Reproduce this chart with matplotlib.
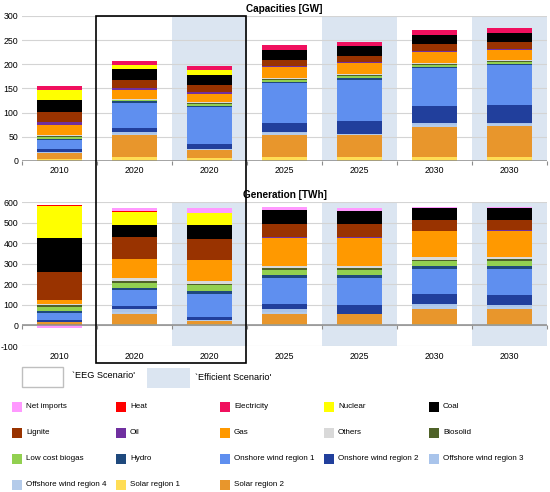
import matplotlib.pyplot as plt
from matplotlib.patches import Rectangle
import numpy as np

plt.rcParams['font.family'] = ['Liberation Sans', 'DejaVu Sans']
plt.rcParams['axes.unicode_minus'] = False

years = ['2010', '2020', '2020', '2025', '2025', '2030', '2030']
efficient = [0, 0, 1, 0, 1, 0, 1]

techs = ['Net imports', 'Heat', 'Electricity', 'Nuclear', 'Coal',
         'Lignite', 'Oil', 'Gas', 'Others', 'Biosolid',
         'Low cost biogas', 'Hydro', 'Onshore wind region 1', 'Onshore wind region 2', 'Offshore wind region 3',
         'Offshore wind region 4', 'Solar region 1', 'Solar region 2']
tech_colors = ['#FF99FF', '#FF0000', '#F0105E', '#FFFF00', '#000000',
               '#993300', '#7030A0', '#FF9900', '#D9D9D9', '#4F6228',
               '#92D050', '#1F497D', '#5F8FEF', '#213F9C', '#A9C4EB',
               '#B4CBEA', '#FFDD55', '#E8962C']
# bottom-up order of the stack
stack_order = ['Solar region 1', 'Solar region 2', 'Offshore wind region 4', 'Offshore wind region 3',
               'Onshore wind region 2', 'Onshore wind region 1', 'Hydro', 'Low cost biogas', 'Biosolid',
               'Others', 'Gas', 'Oil', 'Lignite', 'Coal', 'Nuclear', 'Electricity', 'Heat', 'Net imports']

# capacities [GW]
cap_net_imports = [0, 0, 0, 0, 0, 0, 0]
cap_heat = [0, 0, 0, 0, 0, 0, 0]
cap_electricity = [9, 8.5, 9, 9.5, 9.5, 10.5, 10.5]
cap_nuclear = [21, 8.5, 9.5, 0, 0, 0, 0]
cap_coal = [25.5, 21.5, 21, 21, 19.5, 18, 18]
cap_lignite = [20, 16.5, 14.5, 12.5, 13, 14, 15]
cap_oil = [5.5, 4, 5, 2, 2, 1.5, 1.5]
cap_gas = [21, 19, 16.5, 23.5, 22, 24, 21.5]
cap_others = [3, 1.5, 2.5, 2.5, 3.5, 2.5, 2.5]
cap_biosolid = [1, 1, 1.5, 1.5, 2, 1.5, 1.5]
cap_biogas = [4, 2.5, 3, 3.5, 4, 3.5, 3.5]
cap_hydro = [3, 3, 3, 3, 3, 3, 3]
cap_onshore1 = [19, 53, 77, 82, 85, 78, 83]
cap_onshore2 = [6, 8.5, 9.5, 18, 27, 35, 37]
cap_offshore3 = [0.5, 3, 1, 4, 1.5, 4, 2.5]
cap_offshore4 = [0.5, 3, 1, 4, 2, 4, 2.5]
cap_solar1 = [5, 8, 7, 9, 9, 9, 9]
cap_solar2 = [12, 45, 16, 44, 44, 62, 64]

# generation [TWh]
gen_net_imports = [-13, 16, 24, 15, 15, 4, 4]
gen_heat = [4, 3, 0, 0, 0, 0, 0]
gen_electricity = [0, 0, 0, 0, 0, 2, 2]
gen_nuclear = [156, 62, 60, 0, 0, 0, 0]
gen_coal = [165, 60, 70, 67, 67, 57, 57]
gen_lignite = [137, 106, 101, 65, 63, 52, 52]
gen_oil = [2, 1, 1, 1, 1, 1, 1]
gen_gas = [19, 94, 102, 137, 138, 127, 130]
gen_others = [6, 11, 11, 10, 10, 13, 10]
gen_biosolid = [6, 10, 8, 10, 10, 8, 8]
gen_biogas = [21, 26, 28, 26, 26, 24, 24]
gen_hydro = [11, 11, 13, 13, 13, 11, 15]
gen_onshore1 = [32, 78, 114, 125, 133, 122, 124]
gen_onshore2 = [10, 15, 13, 28, 39, 49, 52]
gen_offshore3 = [1, 11, 2, 11, 2, 12, 10]
gen_offshore4 = [0, 10, 1, 10, 1, 12, 10]
gen_solar1 = [3, 8, 8, 8, 8, 8, 8]
gen_solar2 = [13, 49, 16, 49, 47, 73, 70]

cap = dict(zip(techs, [cap_net_imports, cap_heat, cap_electricity, cap_nuclear, cap_coal,
                       cap_lignite, cap_oil, cap_gas, cap_others, cap_biosolid,
                       cap_biogas, cap_hydro, cap_onshore1, cap_onshore2, cap_offshore3,
                       cap_offshore4, cap_solar1, cap_solar2]))
gen = dict(zip(techs, [gen_net_imports, gen_heat, gen_electricity, gen_nuclear, gen_coal,
                       gen_lignite, gen_oil, gen_gas, gen_others, gen_biosolid,
                       gen_biogas, gen_hydro, gen_onshore1, gen_onshore2, gen_offshore3,
                       gen_offshore4, gen_solar1, gen_solar2]))
col = dict(zip(techs, tech_colors))

shade = '#DBE5F1'
fs = 6.3


def draw(ax, data, ymin, ymax, step, title, xpad):
    x = np.arange(len(years))
    for i, e in enumerate(efficient):
        if e:
            ax.axvspan(i - 0.5, i + 0.5, color=shade, lw=0, zorder=0)
    pos = np.zeros(len(years))
    neg = np.zeros(len(years))
    for t in stack_order:
        v = np.array(data[t], dtype=float)
        bot = np.where(v >= 0, pos, neg)
        ax.bar(x, v, 0.59, bottom=bot, color=col[t], linewidth=0, zorder=2)
        pos = pos + np.clip(v, 0, None)
        neg = neg + np.clip(v, None, 0)
    ax.set_xlim(-0.5, len(years) - 0.5)
    ax.set_ylim(ymin, ymax)
    ax.set_yticks(np.arange(ymin, ymax + 1, step))
    ax.set_axisbelow(True)
    ax.yaxis.grid(True, color='#D4D4D4', lw=0.8)
    for s in ax.spines.values():
        s.set_visible(False)
    ax.axhline(0, color='#8C8C8C', lw=1.1, zorder=3)
    ax.set_xticks(x)
    ax.set_xticklabels(years)
    ax.tick_params(axis='y', length=0, labelsize=fs, pad=2.5)
    ax.tick_params(axis='x', length=0, labelsize=fs, pad=xpad)
    # category boundary ticks on the zero line
    sec = ax.secondary_xaxis(-ymin / (ymax - ymin))
    sec.set_xticks(np.arange(-0.5, len(years), 1))
    sec.set_xticklabels([])
    sec.tick_params(length=3, width=0.8, color='#8C8C8C')
    sec.spines['bottom'].set_visible(False)
    ax.set_title(title, fontsize=7.2, fontweight='bold', pad=3)


fig = plt.figure(figsize=(5.5, 4.92), dpi=100)
ax1 = fig.add_axes([0.04, 0.6728, 0.9545, 0.2947])
draw(ax1, cap, 0, 300, 50, 'Capacities [GW]', 3.6)
ax2 = fig.add_axes([0.04, 0.2967, 0.9545, 0.2927])
draw(ax2, gen, -100, 600, 100, 'Generation [TWh]', 4.5)

# box round the 2020 bars
fig.add_artist(Rectangle((0.1745, 0.2622), 0.2727, 0.7053, transform=fig.transFigure,
                         fill=False, ec='black', lw=1.2))

# scenario key
fig.add_artist(Rectangle((0.04, 0.2134), 0.0745, 0.0407, transform=fig.transFigure,
                         fc='white', ec='#BFBFBF', lw=1))
fig.text(0.131, 0.236, "`EEG Scenario'", fontsize=fs + 0.3, va='center')
fig.add_artist(Rectangle((0.267, 0.211), 0.078, 0.041, transform=fig.transFigure,
                         fc=shade, ec='none'))
fig.text(0.3545, 0.233, "`Efficient Scenario'", fontsize=fs + 0.3, va='center')

# colour key, 5 columns
col_x = [12, 116, 220, 324, 429]
row_y = [407, 433, 459, 485]
for k, t in enumerate(techs):
    r, c = divmod(k, 5)
    px, py = col_x[c], row_y[r]
    fig.add_artist(Rectangle((px / 550, (492 - py - 5) / 492), 10 / 550, 10 / 492,
                             transform=fig.transFigure, fc=col[t], ec='none'))
    fig.text((px + 14) / 550, (492 - py) / 492, t, fontsize=5.8, va='center')

plt.savefig('out.png', dpi=100)
